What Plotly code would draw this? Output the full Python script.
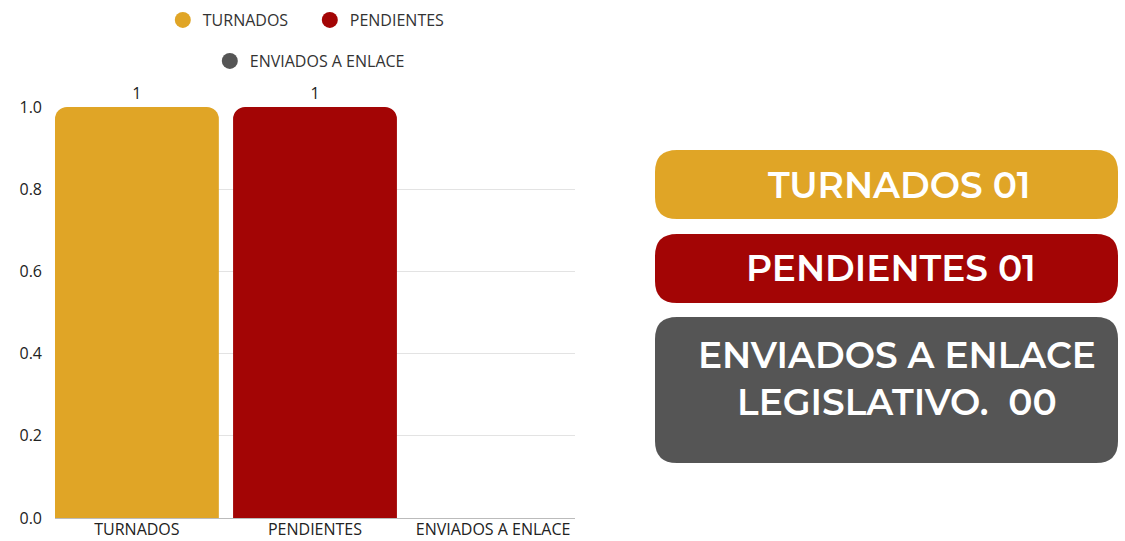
import plotly.graph_objects as go

categories = ["TURNADOS", "PENDIENTES", "ENVIADOS A ENLACE"]
values = [1, 1, 0]
colors = ["#E0A526", "#A30505", "#555555"]
bar_labels = ["1", "1", ""]
y_ticks = [0, 0.2, 0.4, 0.6, 0.8, 1.0]
y_tick_text = ["0.0", "0.2", "0.4", "0.6", "0.8", "1.0"]

box_texts = ["TURNADOS 01", "PENDIENTES 01", "ENVIADOS A ENLACE<br>LEGISLATIVO.  00"]

W, H = 1125, 541
L, R, T, B = 55, 550, 107, 23
FONT = "'Open Sans', sans-serif"

fig = go.Figure()

legend_ids = ["legend", "legend", "legend2"]
for cat, val, col, lab, lg in zip(categories, values, colors, bar_labels, legend_ids):
    fig.add_trace(go.Bar(
        x=[cat], y=[val], marker=dict(color=col, line=dict(width=0)),
        width=0.92, text=[lab], textposition="outside", cliponaxis=False,
        textfont=dict(family=FONT, size=16, color="#222"),
        showlegend=False, legendgroup=cat, hoverinfo="x+y",
    ))
    fig.add_trace(go.Scatter(
        x=[None], y=[None], mode="markers", name=cat, legendgroup=cat,
        marker=dict(symbol="circle", size=17, color=col), legend=lg,
    ))

def px2paper_x(px):
    return (px - L) / (W - L - R)

def px2paper_y(py):
    return (H - B - py) / (H - T - B)

boxes = [(655, 150, 1118, 219), (655, 234, 1118, 303), (655, 317, 1118, 463)]
shapes = []
for (x0, y0, x1, y1), col in zip(boxes, colors):
    r = 22
    def P(x, y):
        return f"{px2paper_x(x)},{px2paper_y(y)}"
    path = (f"M {P(x0+r,y0)} L {P(x1-r,y0)} Q {P(x1,y0)} {P(x1,y0+r)} "
            f"L {P(x1,y1-r)} Q {P(x1,y1)} {P(x1-r,y1)} L {P(x0+r,y1)} "
            f"Q {P(x0,y1)} {P(x0,y1-r)} L {P(x0,y0+r)} Q {P(x0,y0)} {P(x0+r,y0)} Z")
    shapes.append(dict(type="path", xref="paper", yref="paper", path=path,
                       fillcolor=col, line=dict(width=0), layer="below"))

annotations = []
text_pos = [(899, 185), (891, 268), (897, 378)]
for (tx, ty), txt in zip(text_pos, box_texts):
    annotations.append(dict(
        x=px2paper_x(tx), y=px2paper_y(ty), xref="paper", yref="paper",
        text=txt, showarrow=False, xanchor="center", yanchor="middle",
        font=dict(family="Montserrat, Poppins, 'Open Sans', sans-serif", size=36, color="white", weight=600),
        align="center",
    ))

fig.update_layout(
    width=W, height=H,
    margin=dict(l=L, r=R, t=T, b=B, autoexpand=False),
    paper_bgcolor="white", plot_bgcolor="white",
    barmode="overlay", barcornerradius=12,
    font=dict(family=FONT, size=16, color="#222"),
    xaxis=dict(range=[-0.46, 2.46], showgrid=False, showline=True, linecolor="#bbbbbb",
               linewidth=1, ticks="", tickfont=dict(size=16, color="#222"),
               ticklabelstandoff=-3),
    yaxis=dict(range=[0, 1.0], tickvals=y_ticks, ticktext=y_tick_text, showgrid=True,
               gridcolor="#e3e3e3", gridwidth=1, zeroline=False, showline=False,
               ticklabelstandoff=12, tickfont=dict(size=16, color="#222")),
    legend=dict(orientation="h", x=0.49, xanchor="center", y=px2paper_y(20), yanchor="middle",
                font=dict(size=16, color="#333"), entrywidth=102, traceorder="normal",
                bgcolor="rgba(0,0,0,0)"),
    legend2=dict(orientation="h", x=0.49, xanchor="center", y=px2paper_y(61), yanchor="middle",
                 font=dict(size=16, color="#333"), bgcolor="rgba(0,0,0,0)"),
    shapes=shapes, annotations=annotations,
)

fig.write_html("out.html", config={"displayModeBar": False},
               post_script="document.body.style.margin='0px';")
